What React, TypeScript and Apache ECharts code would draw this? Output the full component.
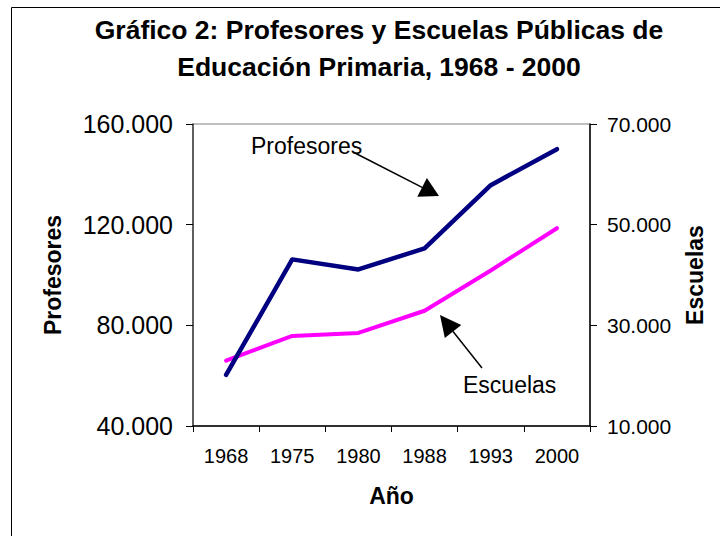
import React, { useEffect, useRef } from 'react';
import * as echarts from 'echarts';

const years = ['1968', '1975', '1980', '1988', '1993', '2000'];
const profesores = [60300, 106200, 102200, 110600, 135700, 150000];
const escuelas = [23000, 27900, 28500, 32900, 40900, 49300];
const rightTicks = [10000, 30000, 50000, 70000];

const titleText = 'Gráfico 2: Profesores y Escuelas Públicas de\nEducación Primaria, 1968 - 2000';

const fmt = (v: number) => String(Math.round(v)).replace(/\B(?=(\d{3})+(?!\d))/g, '.');

const FONT = '"Liberation Sans", Arial, sans-serif';

export default function App() {
  const ref = useRef<HTMLDivElement>(null);
  useEffect(() => {
    if (!ref.current) return;
    const chart = echarts.init(ref.current, null, { renderer: 'svg' });
    const arrow = (x1: number, y1: number, tx: number, ty: number, len: number, half: number) => {
      const dx = tx - x1, dy = ty - y1;
      const L = Math.sqrt(dx * dx + dy * dy);
      const ux = dx / L, uy = dy / L;
      const bx = tx - ux * len, by = ty - uy * len;
      const px = -uy, py = ux;
      return [
        { type: 'line', shape: { x1, y1, x2: bx, y2: by }, style: { stroke: '#000', lineWidth: 1.5 } },
        {
          type: 'polygon',
          shape: { points: [[tx, ty], [bx + px * half, by + py * half], [bx - px * half, by - py * half]] },
          style: { fill: '#000' },
        },
      ];
    };
    chart.setOption({
      animation: false,
      backgroundColor: '#fff',
      textStyle: { fontFamily: FONT },
      title: {
        text: titleText,
        left: 374,
        top: 6,
        textAlign: 'center',
        textStyle: { fontFamily: FONT, fontSize: 26.5, fontWeight: 'bold', lineHeight: 37, color: '#000' },
      },
      grid: { left: 193, right: 130, top: 124, bottom: 110, show: true, borderColor: '#808080', borderWidth: 1, backgroundColor: 'transparent' },
      xAxis: {
        type: 'category',
        data: years,
        boundaryGap: true,
        name: 'Año',
        nameLocation: 'middle',
        nameGap: 58,
        nameTextStyle: { fontFamily: FONT, fontSize: 23, fontWeight: 'bold', color: '#000' },
        axisLine: { lineStyle: { color: '#000', width: 1.5 } },
        axisTick: { show: true, alignWithLabel: false, length: 6, lineStyle: { color: '#000' } },
        axisLabel: { fontFamily: FONT, fontSize: 20, color: '#000', margin: 20 },
        splitLine: { show: false },
      },
      yAxis: [
        {
          type: 'value',
          min: 40000,
          max: 160000,
          interval: 40000,
          name: 'Profesores',
          nameLocation: 'middle',
          nameGap: 129,
          nameTextStyle: { fontFamily: FONT, fontSize: 23, fontWeight: 'bold', color: '#000' },
          axisLine: { show: true, lineStyle: { color: '#404040', width: 1.5 } },
          axisTick: { show: true, length: 7, lineStyle: { color: '#000' } },
          axisLabel: { fontFamily: FONT, fontSize: 25, color: '#000', margin: 20, formatter: (v: number) => fmt(v) },
          splitLine: { show: false },
        },
        {
          type: 'value',
          min: 10000,
          max: 70000,
          position: 'right',
          name: 'Escuelas',
          nameLocation: 'middle',
          nameGap: 93,
          nameTextStyle: { fontFamily: FONT, fontSize: 23, fontWeight: 'bold', color: '#000' },
          axisLine: { show: true, lineStyle: { color: '#000', width: 1.5 } },
          axisTick: { show: true, length: 7, customValues: rightTicks, lineStyle: { color: '#000' } },
          axisLabel: { fontFamily: FONT, fontSize: 21, color: '#000', margin: 17, customValues: rightTicks, formatter: (v: number) => fmt(v) },
          splitLine: { show: false },
        },
      ],
      series: [
        {
          name: 'Escuelas',
          type: 'line',
          yAxisIndex: 1,
          data: escuelas,
          showSymbol: false,
          lineStyle: { color: '#FF00FF', width: 4, cap: 'round', join: 'round' },
          itemStyle: { color: '#FF00FF' },
        },
        {
          name: 'Profesores',
          type: 'line',
          yAxisIndex: 0,
          data: profesores,
          showSymbol: false,
          lineStyle: { color: '#000080', width: 4.5, cap: 'round', join: 'round' },
          itemStyle: { color: '#000080' },
        },
      ],
      graphic: [
        { type: 'rect', shape: { x: 11.5, y: 7.5, width: 900, height: 900 }, style: { fill: 'none', stroke: '#000', lineWidth: 1 }, z: -1 },
        { type: 'text', style: { text: 'Profesores', x: 251, y: 146, font: `23px ${FONT}`, fill: '#000', verticalAlign: 'middle' } },
        { type: 'text', style: { text: 'Escuelas', x: 463, y: 385, font: `23px ${FONT}`, fill: '#000', verticalAlign: 'middle' } },
        ...arrow(353, 152, 439, 196, 19, 10.5),
        ...arrow(482, 368, 440, 315, 21, 10.5),
      ],
    });
    return () => chart.dispose();
  }, []);
  return <div ref={ref} style={{ position: 'fixed', left: 0, top: 0, width: 720, height: 536 }} />;
}
